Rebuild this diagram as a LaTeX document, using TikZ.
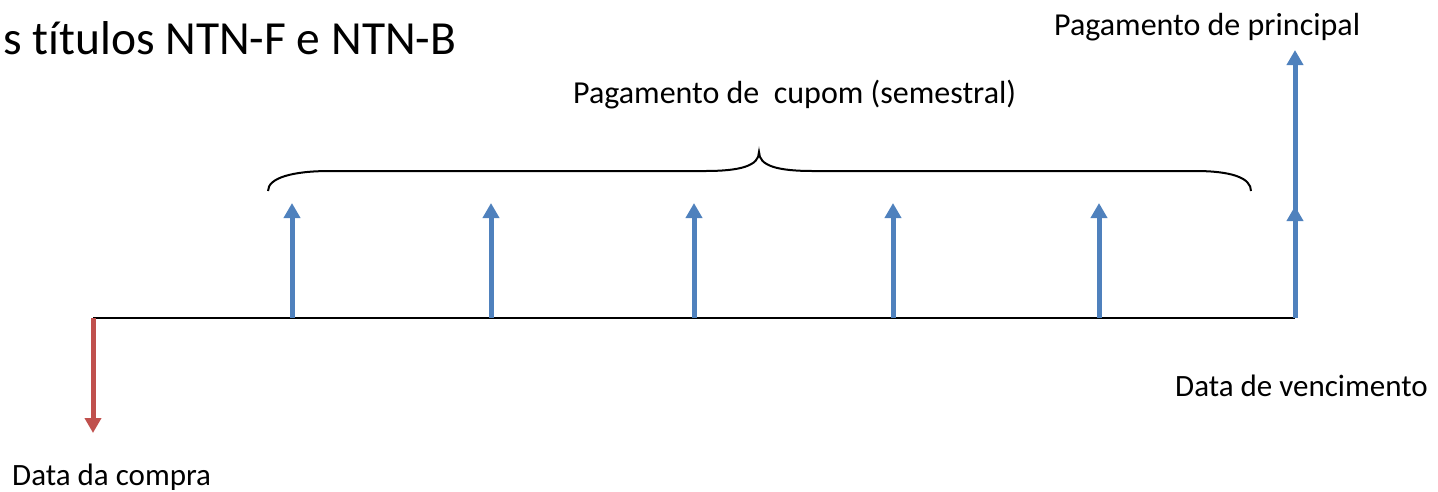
\documentclass[tikz,border=0pt]{standalone}
\usepackage{fontspec}
\setmainfont[Ligatures=NoCommon]{Carlito}
\usetikzlibrary{arrows.meta}
\definecolor{cblue}{HTML}{4F81BD}
\definecolor{cred}{HTML}{C0504D}
\begin{document}
\begin{tikzpicture}[x=1pt,y=-1pt,
  lbl/.style={inner sep=0pt, font=\fontsize{31}{37}\selectfont},
  lblb/.style={inner sep=0pt, font=\fontsize{32}{38}\selectfont},
  ttl/.style={inner sep=0pt, font=\fontsize{47.5}{57}\selectfont},
  cflow/.style={draw=cblue, line width=5pt, -{Triangle[width=16pt,length=15pt]}},
  dflow/.style={draw=cred, line width=5pt, -{Triangle[width=16pt,length=15pt]}},
  axis/.style={draw=black, line width=2pt},
  bracestyle/.style={draw=black, line width=2pt}]
\useasboundingbox (0,0) rectangle (1438,491);
% timeline points
\coordinate (t0) at (93,318);
\coordinate (c1) at (292,318);
\coordinate (c2) at (491,318);
\coordinate (c3) at (694,318);
\coordinate (c4) at (893,318);
\coordinate (c5) at (1099,318);
\coordinate (tn) at (1295,318);
% tips
\coordinate (d0) at (93,433);
\coordinate (u1) at (292,203);
\coordinate (u2) at (491,203);
\coordinate (u3) at (694,203);
\coordinate (u4) at (893,203);
\coordinate (u5) at (1099,203);
\coordinate (u6) at (1295,206);
\coordinate (up) at (1295,50);
% axis
\draw[axis] (t0) -- (tn);
% arrows
\draw[dflow] (t0) -- (d0);
\foreach \i in {1,...,5} {\draw[cflow] (c\i) -- (u\i);}
\draw[cflow] (tn) -- (up);
\draw[cflow] (tn) -- (u6);
% brace
\coordinate (bl) at (268,191);
\coordinate (bt) at (759,152);
\coordinate (br) at (1251,191);
\draw[bracestyle] (bl) .. controls (268,178) and (292,171) .. (330,171) -- (705,171)
  .. controls (740,171) and (759,166) .. (bt)
  .. controls (759,166) and (778,171) .. (813,171) -- (1195,171)
  .. controls (1232,171) and (1251,178) .. (br);
% labels
\node[ttl, anchor=base west] (title) at (3,54) {s títulos NTN-F e NTN-B};
\node[lblb, anchor=base west] (princ) at (1054,35) {Pagamento de principal};
\node[lblb, anchor=base west] (cupom) at (573,103) {Pagamento de\ \ cupom (semestral)};
\node[lbl, anchor=base west] (venc) at (1175,396) {Data de vencimento};
\node[lbl, anchor=base west] (compra) at (12,485) {Data da compra};
\end{tikzpicture}
\end{document}
